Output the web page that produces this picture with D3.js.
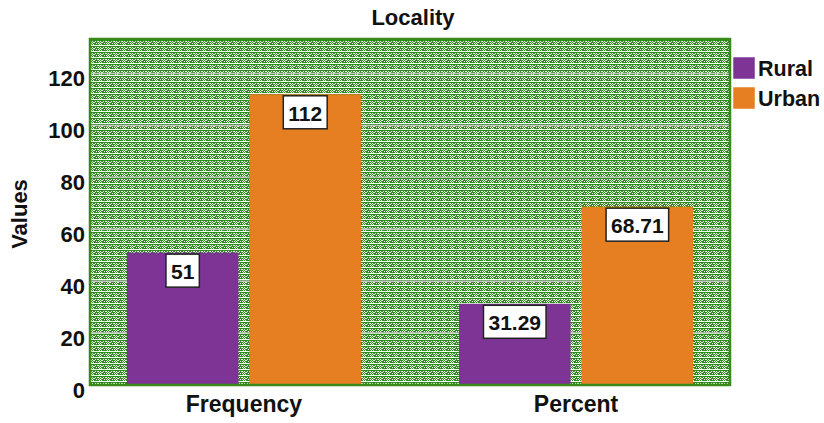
<!DOCTYPE html>
<html>
<head>
<meta charset="utf-8">
<script src="https://cdn.jsdelivr.net/npm/d3@7"></script>
<style>
  html, body { margin: 0; padding: 0; background: #fff; }
  svg { display: block; }
  text { font-family: "Liberation Sans", Arial, sans-serif; font-weight: bold; fill: #111; }
</style>
</head>
<body>
<svg id="chart" width="824" height="423"></svg>
<script>
// Data
const groups = ["Frequency", "Percent"];
const series = ["Rural", "Urban"];
const rural = [51, 31.29];
const urban = [112, 68.71];
const yTicks = [0, 20, 40, 60, 80, 100, 120];
const colors = ["#7d3494", "#e67f22"];

const svg = d3.select("#chart");
const plot = { left: 90, right: 730, top: 39, bottom: 385 };

const y = d3.scaleLinear().domain([0, 133.3]).range([plot.bottom, plot.top]);
const x0 = d3.scaleBand().domain(groups).range([plot.left, plot.right])
  .paddingInner(0.295).paddingOuter(0.111);
const x1 = d3.scaleBand().domain(series).range([0, x0.bandwidth()]).paddingInner(0.09);

// Woven green fill for the plot panel
const defs = svg.append("defs");
const pat = defs.append("pattern").attr("id", "weave")
  .attr("patternUnits", "userSpaceOnUse")
  .attr("x", plot.left).attr("y", plot.top)
  .attr("width", 8).attr("height", 6);
pat.append("rect").attr("width", 8).attr("height", 6).attr("fill", "#2f8a1f");
pat.append("rect").attr("y", 0).attr("width", 8).attr("height", 1).attr("fill", "#f4f8f2");
const dots = [
  [0,2],[2,2],[1,3],[3,3],[0,4],[2,4],[1,5],[3,5],
  [5,2],[7,2],[6,4],[4,3]
];
dots.forEach(([px, py]) => {
  pat.append("rect").attr("x", px).attr("y", py).attr("width", 1).attr("height", 1)
    .attr("fill", "#e9f2e4");
});

svg.append("rect")
  .attr("x", plot.left).attr("y", plot.top)
  .attr("width", plot.right - plot.left).attr("height", plot.bottom - plot.top)
  .attr("fill", "url(#weave)");

// Gridlines
svg.append("g").selectAll("line").data(yTicks.filter(d => d > 0)).join("line")
  .attr("x1", plot.left).attr("x2", plot.right)
  .attr("y1", d => y(d)).attr("y2", d => y(d))
  .attr("stroke", "#c9c9c9").attr("stroke-width", 1.5);

// Bars
const rows = groups.map((g, i) => ({ group: g, values: [rural[i], urban[i]] }));
const gBars = svg.append("g").selectAll("g").data(rows).join("g")
  .attr("transform", d => `translate(${x0(d.group)},0)`);

gBars.selectAll("rect").data(d => d.values.map((v, j) => ({ key: series[j], v, j }))).join("rect")
  .attr("x", d => x1(d.key))
  .attr("y", d => y(d.v))
  .attr("width", x1.bandwidth())
  .attr("height", d => y(0) - y(d.v))
  .attr("fill", d => colors[d.j]);

// Value labels in boxes
const lab = gBars.selectAll("g.lab").data(d => d.values.map((v, j) => ({ key: series[j], v, j }))).join("g")
  .attr("class", "lab");
lab.each(function(d) {
  const g = d3.select(this);
  const cx = x1(d.key) + x1.bandwidth() / 2;
  const top = y(d.v) + 1.5;
  const t = g.append("text")
    .attr("x", cx).attr("y", top + 17.5)
    .attr("text-anchor", "middle").attr("dominant-baseline", "central")
    .attr("font-size", 21)
    .text(d3.format("~f")(d.v));
  const w = t.node().getComputedTextLength();
  g.insert("rect", "text")
    .attr("x", cx - w / 2 - 5).attr("y", top)
    .attr("width", w + 10).attr("height", 33)
    .attr("fill", "#fff").attr("stroke", "#222").attr("stroke-width", 1.5);
});

// Plot border
svg.append("rect")
  .attr("x", plot.left).attr("y", plot.top)
  .attr("width", plot.right - plot.left).attr("height", plot.bottom - plot.top)
  .attr("fill", "none").attr("stroke", "#3a8a1a").attr("stroke-width", 2.5);

// Y axis tick labels
svg.append("g").selectAll("text").data(yTicks).join("text")
  .attr("x", 85).attr("y", d => y(d) + 5)
  .attr("text-anchor", "end").attr("dominant-baseline", "central")
  .attr("font-size", 22)
  .text(d => d);

// X axis labels
svg.append("g").selectAll("text").data(groups).join("text")
  .attr("x", d => x0(d) + x0.bandwidth() / 2).attr("y", 412)
  .attr("text-anchor", "middle")
  .attr("font-size", 23)
  .text(d => d);

// Title
svg.append("text").attr("x", 413).attr("y", 25)
  .attr("text-anchor", "middle").attr("font-size", 22)
  .text("Locality");

// Y axis title
svg.append("text")
  .attr("transform", "translate(27,214) rotate(-90)")
  .attr("text-anchor", "middle").attr("font-size", 22)
  .text("Values");

// Legend
const leg = svg.append("g").selectAll("g").data(series).join("g")
  .attr("transform", (d, i) => `translate(733,${57 + i * 30})`);
leg.append("rect").attr("width", 22).attr("height", 22)
  .attr("fill", (d, i) => colors[i]).attr("stroke", "#fff").attr("stroke-width", 0.5);
leg.append("text").attr("x", 25).attr("y", 12)
  .attr("dominant-baseline", "central").attr("font-size", 21.5)
  .text(d => d);
</script>
</body>
</html>
